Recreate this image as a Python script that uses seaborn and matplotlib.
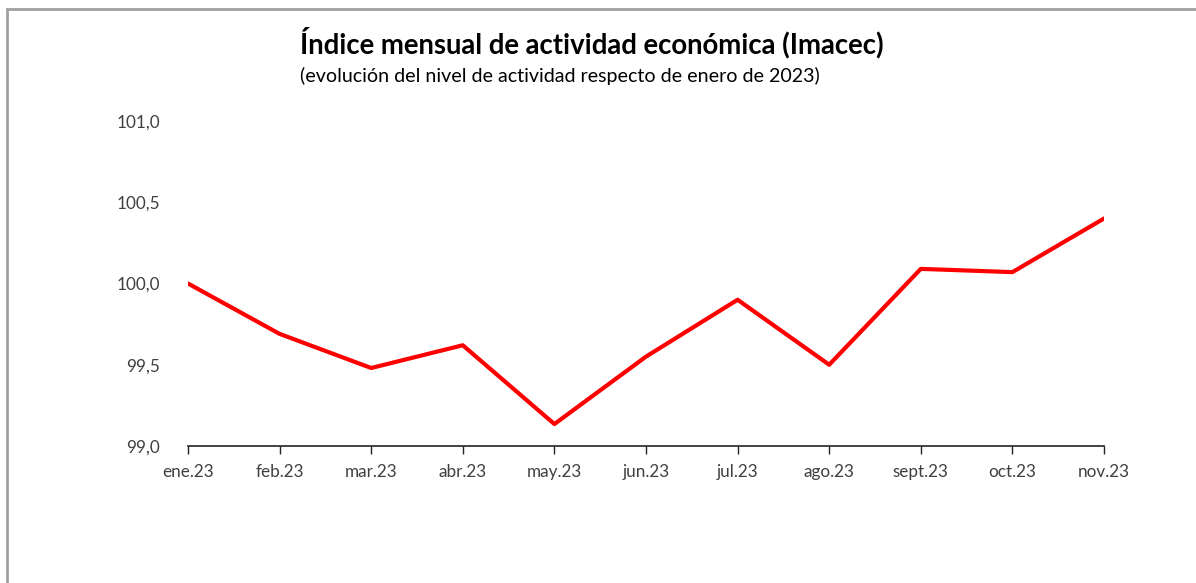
import matplotlib

matplotlib.use("Agg")
import pandas as pd
import seaborn as sns
from matplotlib import pyplot as plt
from matplotlib.patches import Rectangle
from matplotlib.ticker import FuncFormatter, MultipleLocator

months = ["ene.23", "feb.23", "mar.23", "abr.23", "may.23", "jun.23",
          "jul.23", "ago.23", "sept.23", "oct.23", "nov.23"]
imacec = [100.0, 99.69, 99.48, 99.62, 99.135, 99.55,
          99.90, 99.50, 100.09, 100.07, 100.40]

TITLE = "Índice mensual de actividad económica (Imacec)"
SUBTITLE = "(evolución del nivel de actividad respecto de enero de 2023)"

sns.set_theme(style="white")
plt.rcParams["font.family"] = ["Lato", "DejaVu Sans"]

df = pd.DataFrame({"mes": months, "indice": imacec})

fig = plt.figure(figsize=(11.96, 5.83), dpi=100)
ax = fig.add_axes([188 / 1196, 1 - 446 / 583, (1104 - 188) / 1196, (446 - 121) / 583])

sns.lineplot(data=df, x="mes", y="indice", ax=ax, color="#FF0000", linewidth=3.0, sort=False)

ax.set_xlim(0, len(months) - 1)
ax.set_ylim(99.0, 101.0)
ax.yaxis.set_major_locator(MultipleLocator(0.5))
ax.yaxis.set_major_formatter(FuncFormatter(lambda v, _: f"{v:.1f}".replace(".", ",")))
ax.set_xlabel("")
ax.set_ylabel("")

for side in ("top", "right", "left"):
    ax.spines[side].set_visible(False)
ax.spines["bottom"].set_color("#222222")
ax.spines["bottom"].set_linewidth(1.2)
ax.tick_params(axis="x", bottom=True, length=6, width=1.0, color="#222222",
               labelsize=12.3, labelcolor="#404040", pad=7)
ax.tick_params(axis="y", left=False, labelsize=12.3, labelcolor="#404040", pad=14)

fig.text(300 / 1196, 1 - 43 / 583, TITLE, fontsize=19.8, fontweight="bold",
         color="black", ha="left", va="center")
fig.text(300 / 1196, 1 - 76 / 583, SUBTITLE, fontsize=14.1, color="black",
         ha="left", va="center")

# outer frame of the chart object
fig.patches.append(Rectangle((7 / 1196, -0.1), 1.2, 1 - 9 / 583 + 0.1,
                             transform=fig.transFigure, fill=False,
                             edgecolor="#A0A0A0", linewidth=2.0))

fig.savefig("out.png", dpi=100)
